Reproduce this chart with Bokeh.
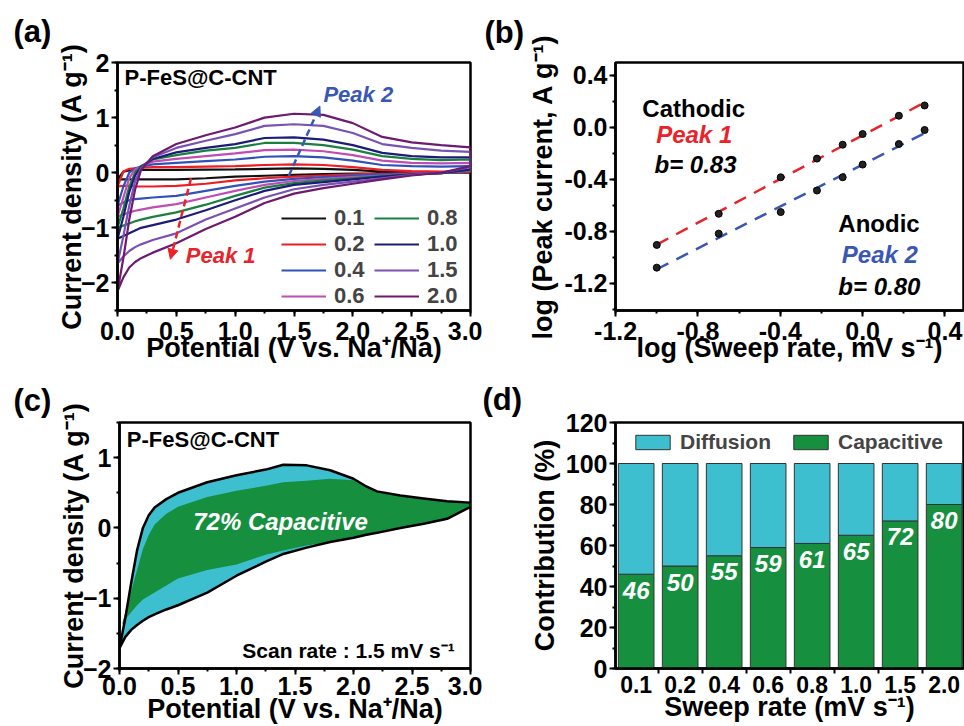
import numpy as np
from bokeh.plotting import figure
from bokeh.layouts import column, row
from bokeh.models import (Range1d, SingleIntervalTicker, FixedTicker, PrintfTickFormatter,
                          Label, Legend, LegendItem, Arrow, NormalHead, ColumnDataSource)
from bokeh.embed import file_html
from bokeh.resources import INLINE
from bokeh.core.properties import value

FONT = "Liberation Sans"

# ---------------- data ----------------
# (a) CV curves, current density (A/g) on a potential grid (V); anodic (upper) and cathodic (lower) branches
rates = ["0.1", "0.2", "0.4", "0.6", "0.8", "1.0", "1.5", "2.0"]
E_a = [0.0, 0.05, 0.1, 0.15, 0.2, 0.3, 0.5, 0.75, 1.0, 1.25, 1.5, 1.75, 2.0, 2.25, 2.5, 2.75, 3.0]
up_01 = [-0.12, 0.02, 0.04, 0.045, 0.05, 0.05, 0.05, 0.055, 0.06, 0.07, 0.08, 0.07, 0.05, 0.02, 0.01, 0.005, 0.005]
up_02 = [-0.25, 0.02, 0.07, 0.08, 0.09, 0.1, 0.1, 0.11, 0.12, 0.14, 0.15, 0.14, 0.1, 0.05, 0.03, 0.02, 0.02]
up_04 = [-0.6, -0.25, 0.0, 0.08, 0.11, 0.15, 0.18, 0.21, 0.24, 0.29, 0.3, 0.28, 0.22, 0.14, 0.12, 0.11, 0.12]
up_06 = [-0.8, -0.45, -0.1, 0.06, 0.12, 0.2, 0.25, 0.3, 0.35, 0.41, 0.42, 0.39, 0.32, 0.22, 0.18, 0.17, 0.18]
up_08 = [-1.0, -0.65, -0.25, 0.0, 0.12, 0.24, 0.32, 0.4, 0.45, 0.54, 0.54, 0.5, 0.42, 0.3, 0.25, 0.23, 0.24]
up_10 = [-1.2, -0.8, -0.35, -0.05, 0.1, 0.25, 0.37, 0.45, 0.52, 0.63, 0.64, 0.6, 0.5, 0.36, 0.3, 0.28, 0.28]
up_15 = [-1.65, -1.15, -0.6, -0.15, 0.08, 0.28, 0.45, 0.58, 0.7, 0.85, 0.88, 0.85, 0.72, 0.52, 0.45, 0.4, 0.38]
up_20 = [-2.15, -1.55, -0.85, -0.3, 0.05, 0.3, 0.52, 0.68, 0.82, 1.0, 1.07, 1.05, 0.9, 0.65, 0.55, 0.5, 0.46]
low_01 = [-0.12, -0.12, -0.12, -0.12, -0.12, -0.12, -0.12, -0.1, -0.07, -0.055, -0.04, -0.025, -0.015, -0.01, -0.005, 0.0, 0.0]
low_02 = [-0.25, -0.24, -0.24, -0.25, -0.25, -0.25, -0.24, -0.2, -0.14, -0.1, -0.07, -0.05, -0.03, -0.02, -0.01, 0.0, 0.01]
low_04 = [-0.6, -0.54, -0.5, -0.48, -0.47, -0.45, -0.42, -0.33, -0.24, -0.16, -0.11, -0.08, -0.05, -0.03, -0.02, -0.01, 0.03]
low_06 = [-0.8, -0.76, -0.72, -0.69, -0.67, -0.63, -0.57, -0.45, -0.33, -0.22, -0.15, -0.11, -0.08, -0.05, -0.02, -0.01, 0.04]
low_08 = [-1.0, -0.96, -0.92, -0.88, -0.85, -0.8, -0.72, -0.58, -0.42, -0.27, -0.19, -0.14, -0.1, -0.06, -0.03, -0.01, 0.05]
low_10 = [-1.2, -1.15, -1.1, -1.05, -1.0, -0.95, -0.85, -0.68, -0.5, -0.33, -0.22, -0.17, -0.12, -0.07, -0.03, -0.01, 0.06]
low_15 = [-1.65, -1.52, -1.42, -1.35, -1.3, -1.22, -1.1, -0.85, -0.65, -0.45, -0.3, -0.22, -0.16, -0.1, -0.04, 0.0, 0.1]
low_20 = [-2.15, -1.9, -1.72, -1.62, -1.55, -1.45, -1.28, -1.02, -0.8, -0.55, -0.38, -0.28, -0.2, -0.12, -0.05, 0.0, 0.12]

# (b) log peak current vs log sweep rate
sweep_rates = [0.1, 0.2, 0.4, 0.6, 0.8, 1.0, 1.5, 2.0]
log_peak1 = [-0.905, -0.665, -0.384, -0.24, -0.133, -0.051, 0.09, 0.169]
log_peak2 = [-1.08, -0.818, -0.652, -0.486, -0.384, -0.286, -0.128, -0.02]

# (c) CV at 1.5 mV/s: total (outer) and capacitive (inner) contribution
E_c = [0.0, 0.05, 0.1, 0.15, 0.2, 0.25, 0.3, 0.4, 0.5, 0.75, 1.0, 1.25, 1.4, 1.6, 1.8, 2.0, 2.1, 2.2, 2.4, 2.6, 2.8, 3.0]
total_up = [-1.71, -1.28, -0.78, -0.32, 0.0, 0.18, 0.29, 0.41, 0.5, 0.65, 0.75, 0.83, 0.9, 0.89, 0.82, 0.7, 0.6, 0.52, 0.46, 0.42, 0.38, 0.36]
total_low = [-1.71, -1.55, -1.45, -1.38, -1.32, -1.27, -1.23, -1.16, -1.1, -0.92, -0.68, -0.48, -0.37, -0.28, -0.2, -0.14, -0.1, -0.07, 0.0, 0.06, 0.13, 0.3]
E_cap = [0.02, 0.05, 0.1, 0.15, 0.2, 0.25, 0.3, 0.4, 0.5, 0.75, 1.0, 1.25, 1.4, 1.6, 1.8, 2.0, 2.1, 2.2, 2.4, 2.6, 2.8, 3.0]
cap_up = [-1.38, -1.2, -0.9, -0.6, -0.3, -0.1, 0.05, 0.2, 0.3, 0.44, 0.53, 0.6, 0.65, 0.67, 0.7, 0.68, 0.6, 0.52, 0.46, 0.42, 0.38, 0.36]
cap_low = [-1.38, -1.3, -1.2, -1.1, -1.02, -0.97, -0.92, -0.82, -0.72, -0.6, -0.52, -0.38, -0.32, -0.25, -0.2, -0.15, -0.11, -0.08, -0.01, 0.05, 0.12, 0.3]

# (d) contribution ratio (%)
capacitive_pct = [46, 50, 55, 59, 61, 65, 72, 80]

# ---------------- styles ----------------
curve_colors = ["#111111", "#ee1c24", "#3052b8", "#c04cb4", "#1a8040", "#1c1c78", "#7a52b4", "#6e1a70"]
RED = "#e8232a"
BLUE = "#3a57b4"
CYAN = "#3dbfd0"
GREEN = "#16903f"


def style(p, tick_size="25px", label_size="27px"):
    p.outline_line_color = "black"
    p.outline_line_width = 2.5
    p.xgrid.visible = False
    p.ygrid.visible = False
    p.background_fill_color = "white"
    p.border_fill_color = "white"
    for ax in p.axis:
        ax.axis_line_width = 2.5
        ax.major_tick_in = 0
        ax.major_tick_out = 6
        ax.minor_tick_in = 0
        ax.minor_tick_out = 3
        ax.major_tick_line_width = 2
        ax.minor_tick_line_width = 2
        ax.major_label_text_font = FONT
        ax.major_label_text_font_style = "bold"
        ax.major_label_text_font_size = tick_size
        ax.major_label_text_color = "black"
        ax.axis_label_text_font = FONT
        ax.axis_label_text_font_style = "bold"
        ax.axis_label_text_font_size = label_size
        ax.axis_label_text_color = "black"
    p.xaxis.major_label_standoff = 5
    p.xaxis.axis_label_standoff = -10
    p.yaxis.major_label_standoff = 2
    p.yaxis.axis_label_standoff = 0


def panel_letter(p, s, offset, standoff):
    p.title.text = s
    p.title.align = "left"
    p.title.vertical_align = "top"
    p.title.offset = offset
    p.title.standoff = standoff
    p.title.text_font = FONT
    p.title.text_font_size = "31px"
    p.title.text_font_style = "bold"
    p.title.text_color = "black"


def txt(p, x, y, s, size="24px", color="black", style_="bold", align="left"):
    p.add_layout(Label(x=x, y=y, text=s, text_font=FONT,
                       text_font_size=size, text_font_style=style_, text_color=color,
                       text_align=align, text_baseline="middle"))


TOP_H, BOT_H = 376, 350

# ---------------- (a) ----------------
pa = figure(width=482, height=TOP_H, x_range=Range1d(0, 3), y_range=Range1d(-2.5, 2),
            output_backend="svg", toolbar_location=None,
            min_border_left=117, min_border_right=12, min_border_top=62, min_border_bottom=TOP_H - 310)
style(pa)
pa.xaxis.ticker = SingleIntervalTicker(interval=0.5, num_minor_ticks=2)
pa.xaxis.formatter = PrintfTickFormatter(format="%.1f")
pa.yaxis.ticker = SingleIntervalTicker(interval=1, num_minor_ticks=2)
pa.xaxis.axis_label = "Potential (V vs. Na\u207a/Na)"
pa.yaxis.axis_label = "Current density (A g\u207b\u00b9)"
pa.yaxis.axis_label_standoff = -9

ups = [up_01, up_02, up_04, up_06, up_08, up_10, up_15, up_20]
lows = [low_01, low_02, low_04, low_06, low_08, low_10, low_15, low_20]
items = []
for r, up, low, c in zip(rates, ups, lows, curve_colors):
    xs = E_a + E_a[::-1]
    ys = up + low[::-1]
    rr = pa.line(xs, ys, line_color=c, line_width=2.2)
    items.append(LegendItem(label=r, renderers=[rr]))

for k, its in enumerate([items[:4], items[4:]]):
    lg = Legend(items=its, location=(164 + 93 * k, 1), orientation="vertical",
                glyph_width=45, glyph_height=24, label_height=24, label_standoff=8, spacing=-1,
                padding=0, margin=0, border_line_alpha=0, background_fill_alpha=0,
                label_text_font=FONT, label_text_font_style="bold", label_text_font_size="22px")
    pa.add_layout(lg)

pa.add_layout(Arrow(x_start=0.625, y_start=-0.1, x_end=0.45, y_end=-1.57, line_color=RED,
                    line_width=2.5, line_dash="7 4",
                    end=NormalHead(size=10, fill_color=RED, line_color=RED)))
pa.add_layout(Arrow(x_start=1.455, y_start=-0.06, x_end=1.72, y_end=1.21, line_color=BLUE,
                    line_width=2.5, line_dash="7 4",
                    end=NormalHead(size=10, fill_color=BLUE, line_color=BLUE)))
txt(pa, 0.06, 1.72, "P-FeS@C-CNT", size="22px")
txt(pa, 0.58, -1.51, "Peak 1", size="22px", color=RED, style_="bold italic")
txt(pa, 1.75, 1.42, "Peak 2", size="22px", color=BLUE, style_="bold italic")
panel_letter(pa, "(a)", -104, 24)

# ---------------- (b) ----------------
pb = figure(width=482, height=TOP_H, x_range=Range1d(-1.2005, 0.49), y_range=Range1d(-1.41, 0.5),
            output_backend="svg", toolbar_location=None,
            min_border_left=133, min_border_right=1, min_border_top=61, min_border_bottom=TOP_H - 310)
style(pb)
pb.xaxis.ticker = SingleIntervalTicker(interval=0.4, num_minor_ticks=2)
pb.yaxis.ticker = SingleIntervalTicker(interval=0.4, num_minor_ticks=2)
pb.xaxis.formatter = PrintfTickFormatter(format="%.1f")
pb.yaxis.formatter = PrintfTickFormatter(format="%.1f")
pb.xaxis.axis_label = "log (Sweep rate, mV s\u207b\u00b9)"
pb.yaxis.axis_label = "log (Peak current, A g\u207b\u00b9)"
pb.yaxis.axis_label_standoff = 3

log_rate = np.log10(sweep_rates)
fit_x = np.array([log_rate.min(), log_rate.max()])
for yy, c in [(log_peak1, RED), (log_peak2, BLUE)]:
    k1, k0 = np.polyfit(log_rate, yy, 1)
    pb.line(fit_x, k1 * fit_x + k0, line_color=c, line_width=2.5, line_dash="13 9")
    pb.scatter(log_rate, yy, size=7, fill_color="#222222", line_color="black")

txt(pb, -1.07, 0.148, "Cathodic")
txt(pb, -1.003, -0.056, "Peak 1", color=RED, style_="bold italic")
txt(pb, -1.011, -0.286, "b= 0.83", style_="bold italic")
txt(pb, -0.118, -0.742, "Anodic")
txt(pb, -0.101, -0.982, "Peak 2", color=BLUE, style_="bold italic")
txt(pb, -0.118, -1.228, "b= 0.80", style_="bold italic")
panel_letter(pb, "(b)", -131, 22)

# ---------------- (c) ----------------
pc = figure(width=482, height=BOT_H, x_range=Range1d(0, 3), y_range=Range1d(-2, 1.5),
            output_backend="svg", toolbar_location=None,
            min_border_left=119, min_border_right=12, min_border_top=420 - TOP_H,
            min_border_bottom=BOT_H - (668 - TOP_H))
style(pc)
pc.xaxis.ticker = SingleIntervalTicker(interval=0.5, num_minor_ticks=2)
pc.xaxis.formatter = PrintfTickFormatter(format="%.1f")
pc.yaxis.ticker = SingleIntervalTicker(interval=1, num_minor_ticks=2)
pc.xaxis.axis_label = "Potential (V vs. Na\u207a/Na)"
pc.yaxis.axis_label = "Current density (A g\u207b\u00b9)"
pc.yaxis.axis_label_standoff = -9
pc.xaxis.major_label_standoff = 2
pc.xaxis.axis_label_standoff = -4

pc.patch(E_c + E_c[::-1], total_up + total_low[::-1], fill_color=CYAN, line_color=None)
pc.patch(E_cap + E_cap[::-1], cap_up + cap_low[::-1], fill_color=GREEN, line_color=None)
pc.line(E_c + E_c[::-1], total_up + total_low[::-1], line_color="black", line_width=2.5)
txt(pc, 0.063, 1.26, "P-FeS@C-CNT", size="22px")
txt(pc, 0.63, 0.09, "72% Capacitive", color="white", style_="bold italic")
txt(pc, 1.05, -1.74, "Scan rate : 1.5 mV s\u207b\u00b9", size="21px")
panel_letter(pc, "(c)", -106, 6)

# ---------------- (d) ----------------
pd_ = figure(width=482, height=BOT_H, x_range=Range1d(0.53, 8.44), y_range=Range1d(0, 120),
             output_backend="svg", toolbar_location=None,
             min_border_left=133, min_border_right=1, min_border_top=422 - TOP_H,
             min_border_bottom=BOT_H - (671 - TOP_H))
style(pd_)
xi = np.arange(1, len(rates) + 1)
diffusion_pct = [100 - v for v in capacitive_pct]
src = ColumnDataSource(dict(x=xi, cap=capacitive_pct, dif=diffusion_pct,
                            lab=[str(v) for v in capacitive_pct]))
pd_.xaxis.ticker = FixedTicker(ticks=list(xi), minor_ticks=list(xi - 0.5) + [xi[-1] + 0.5])
pd_.xaxis.major_label_overrides = {int(i): r for i, r in zip(xi, rates)}
pd_.xaxis.major_tick_out = 0
pd_.xaxis.minor_tick_out = 5
pd_.xaxis.major_label_standoff = 2
pd_.xaxis.axis_label_standoff = -4
pd_.xaxis.major_label_text_font_size = "23px"
pd_.yaxis.ticker = SingleIntervalTicker(interval=20, num_minor_ticks=2)
pd_.xaxis.axis_label = "Sweep rate (mV s\u207b\u00b9)"
pd_.yaxis.axis_label = "Contribution (%)"
pd_.yaxis.axis_label_standoff = 3

r_cap = pd_.vbar(x="x", bottom=0, top="cap", width=0.81, source=src,
                 fill_color=GREEN, line_color="#333333", line_width=1)
r_dif = pd_.vbar_stack(["cap", "dif"], x="x", width=0.81, source=src,
                       fill_color=[None, CYAN], line_color=[None, "#333333"], line_width=1)[1]
pd_.text(x="x", y="cap", text="lab", source=src, text_align="center", text_baseline="middle",
         y_offset=16, text_color="white", text_font=value(FONT), text_font_style="bold italic",
         text_font_size="24px")
lgd = Legend(items=[LegendItem(label="Diffusion", renderers=[r_dif]),
                    LegendItem(label="Capacitive", renderers=[r_cap])],
             location=(16, 214), orientation="horizontal", glyph_width=43, glyph_height=18,
             label_standoff=6, spacing=18, padding=0, margin=0, border_line_alpha=0,
             background_fill_alpha=0, label_text_font=FONT, label_text_font_style="bold",
             label_text_font_size="21px")
pd_.add_layout(lgd)
panel_letter(pd_, "(d)", -133, 8)

layout = column(row(pa, pb, spacing=0), row(pc, pd_, spacing=0), spacing=0)
open("out.html", "w").write(file_html(layout, INLINE))
